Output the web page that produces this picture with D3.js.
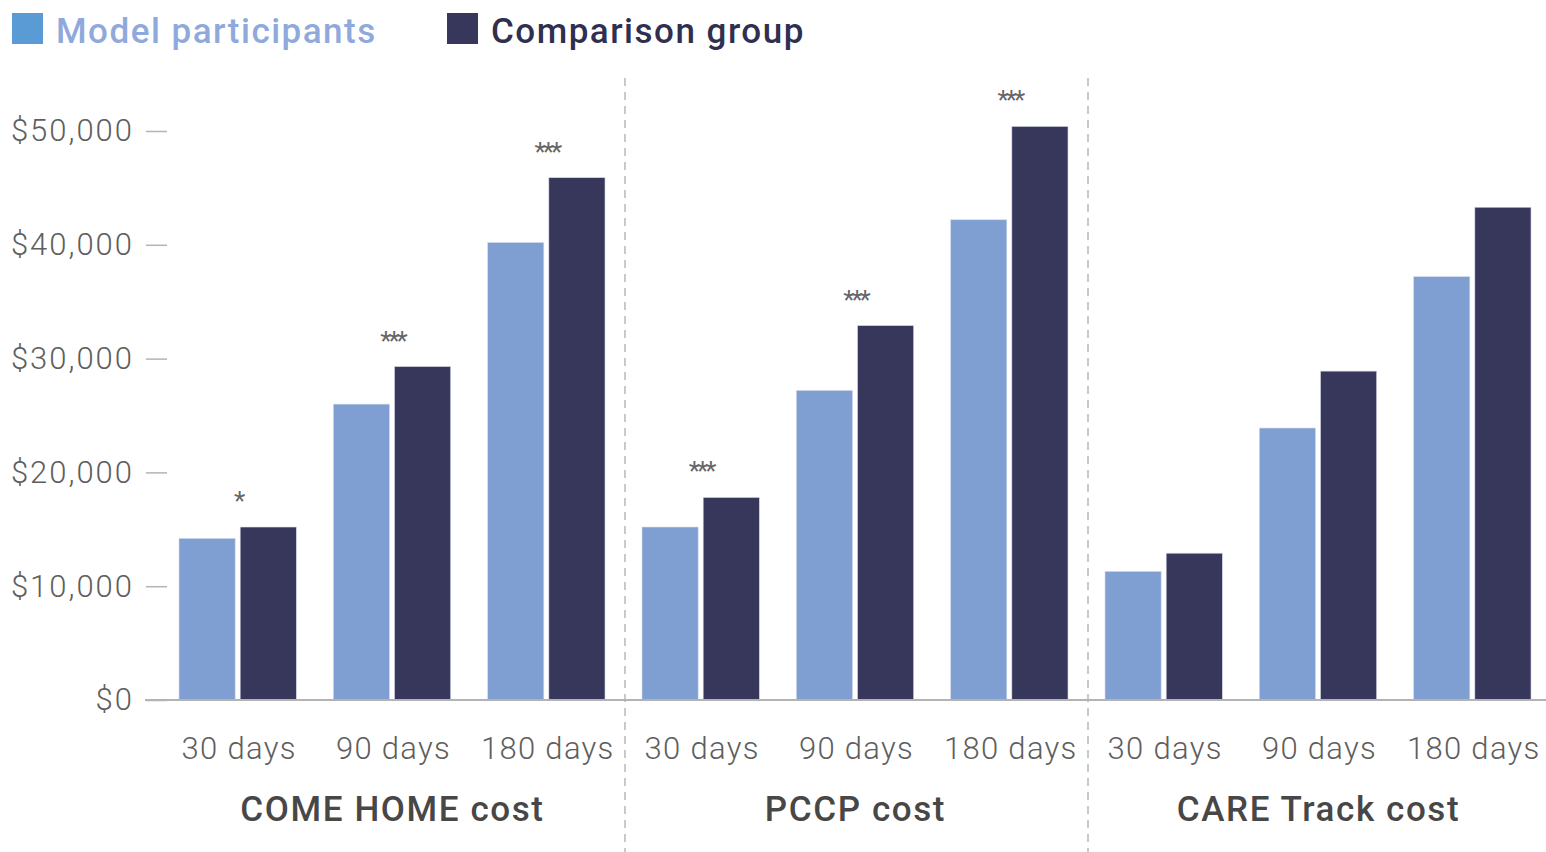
<!DOCTYPE html>
<html>
<head>
<meta charset="utf-8">
<script src="https://cdn.jsdelivr.net/npm/d3@7"></script>
<style>
  body { margin: 0; background: #fff; }
  svg { display: block; font-family: Roboto, "Noto Sans", sans-serif; }
</style>
</head>
<body>
<svg></svg>
<script>
// данные графика
const groups = ['COME HOME cost', 'PCCP cost', 'CARE Track cost']
const periods = ['30 days', '90 days', '180 days']
const seriesNames = ['Model participants', 'Comparison group']
const modelValues = [
  [14200, 26000, 40200],
  [15200, 27200, 42200],
  [11300, 23900, 37200]
]
const comparisonValues = [
  [15200, 29300, 45900],
  [17800, 32900, 50400],
  [12900, 28900, 43300]
]
const stars = [
  ['*', '***', '***'],
  ['***', '***', '***'],
  ['', '', '']
]
const yTicks = [0, 10000, 20000, 30000, 40000, 50000]

const width = 1546
const height = 852
const colors = ['#7f9fd3', '#36375a']

let svg = d3.select('svg').attr('width', width).attr('height', height)

// шкалы
const x0 = d3.scaleBand().domain(groups).range([162, 1551])
const x1 = d3.scaleBand().domain(periods).range([0, x0.bandwidth()])
const x2 = d3.scaleBand().domain(seriesNames).range([17, x1.bandwidth() - 20]).paddingInner(0.082)
const y = d3.scaleLinear().domain([0, 50000]).range([700, 131])

// ось Y
const axisY = d3.axisLeft(y)
  .tickValues(yTicks)
  .tickSize(21)
  .tickPadding(12)
  .tickFormat(d => '$' + d3.format(',')(d))

const gY = svg.append('g')
  .attr('transform', 'translate(167,0)')
  .call(axisY)
gY.select('.domain').remove()
gY.selectAll('line').attr('stroke', '#b3b3b3').attr('stroke-width', 1.5)
gY.selectAll('text')
  .attr('fill', '#5e5e5e')
  .style('font-size', '31px')
  .style('font-weight', 300)
  .style('letter-spacing', '2px')
  .style('font-family', 'Roboto, sans-serif')

// разделители групп
groups.slice(1).forEach(g => {
  svg.append('line')
    .attr('x1', x0(g)).attr('x2', x0(g))
    .attr('y1', 78).attr('y2', height)
    .attr('stroke', '#a6a6a6')
    .attr('stroke-width', 1.2)
    .attr('stroke-dasharray', '8,6')
})

// столбцы
const rows = []
groups.forEach((g, gi) => {
  periods.forEach((p, pi) => {
    rows.push({ g, p, vals: [modelValues[gi][pi], comparisonValues[gi][pi]], star: stars[gi][pi] })
  })
})

const cell = svg.selectAll('.cell')
  .data(rows)
  .enter()
  .append('g')
  .attr('transform', d => `translate(${x0(d.g) + x1(d.p)},0)`)

cell.selectAll('rect')
  .data(d => d.vals.map((v, i) => ({ name: seriesNames[i], v, i })))
  .enter()
  .append('rect')
  .attr('x', d => x2(d.name))
  .attr('width', x2.bandwidth())
  .attr('y', d => y(d.v))
  .attr('height', d => y(0) - y(d.v))
  .attr('fill', d => colors[d.i])
  .attr('stroke', '#d5dbe8')
  .attr('stroke-width', 0.6)

// звёздочки значимости
cell.append('text')
  .attr('x', x1.bandwidth() / 2 - 1)
  .attr('y', d => y(d.vals[1]) - 17)
  .attr('text-anchor', 'middle')
  .attr('fill', '#666')
  .style('font-size', '26px')
  .style('letter-spacing', '-3px')
  .text(d => d.star)

// базовая линия
svg.append('line')
  .attr('x1', 145).attr('x2', width)
  .attr('y1', y(0)).attr('y2', y(0))
  .attr('stroke', '#b3b3b3')
  .attr('stroke-width', 2)

// подписи оси X
cell.append('text')
  .attr('x', x1.bandwidth() / 2)
  .attr('y', 759)
  .attr('text-anchor', 'middle')
  .attr('fill', '#5e5e5e')
  .style('font-size', '31px')
  .style('font-weight', 300)
  .style('letter-spacing', '1.3px')
  .text(d => d.p)

svg.selectAll('.glabel')
  .data(groups)
  .enter()
  .append('text')
  .attr('x', d => x0(d) + x0.bandwidth() / 2 - 1)
  .attr('y', 821)
  .attr('text-anchor', 'middle')
  .attr('fill', '#474747')
  .style('font-size', '35px')
  .style('font-weight', 500)
  .style('letter-spacing', '1.6px')
  .text(d => d)

// легенда
const legend = [
  { name: seriesNames[0], x: 12, box: '#5b9bd5', text: '#8fa9dc' },
  { name: seriesNames[1], x: 447, box: '#36375a', text: '#2f3050' }
]
const lg = svg.selectAll('.legend')
  .data(legend)
  .enter()
  .append('g')
  .attr('transform', d => `translate(${d.x},13)`)
lg.append('rect')
  .attr('width', 31).attr('height', 31)
  .attr('fill', d => d.box)
lg.append('text')
  .attr('x', 44)
  .attr('y', 30)
  .attr('fill', d => d.text)
  .style('font-size', '35px')
  .style('font-weight', 500)
  .style('letter-spacing', '1.5px')
  .text(d => d.name)
</script>
</body>
</html>
